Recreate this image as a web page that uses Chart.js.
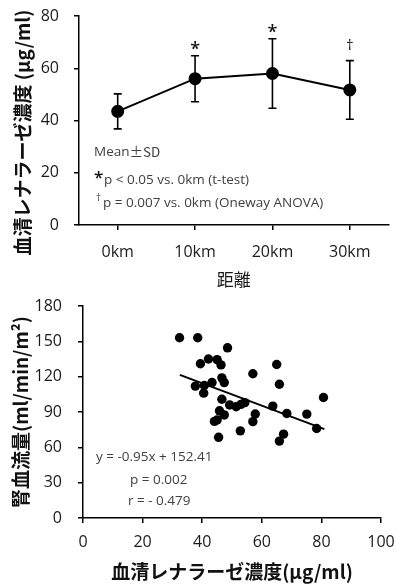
<!DOCTYPE html>
<html>
<head>
<meta charset="utf-8">
<script src="https://cdn.jsdelivr.net/npm/chart.js@4.4.1/dist/chart.umd.min.js"></script>
<style>
  html, body { margin: 0; padding: 0; background: #fff; }
  #wrap { position: relative; width: 396px; height: 586px; }
  canvas { position: absolute; left: 0; }
  #topChart { top: 0; }
  #bottomChart { top: 290px; }
</style>
</head>
<body>
<div id="wrap">
  <canvas id="topChart" width="396" height="290"></canvas>
  <canvas id="bottomChart" width="396" height="296"></canvas>
</div>
<script>
// top chart: serum renalase by distance (mean, SD)
const distances = ['0km', '10km', '20km', '30km'];
const meanRenalase = [43.5, 56, 58, 51.7];
const sdRenalase = [6.7, 8.8, 13.3, 11.2];
const sigMarks = ['', '*', '*', '†'];
const yTicksTop = [0, 20, 40, 60, 80];

// bottom chart: renalase vs renal blood flow
const renalase = [32.4, 38.5, 48.5, 39.4, 42.1, 45.0, 46.3, 65.0, 57.0, 46.6, 47.4, 43.3,
  37.7, 40.7, 40.5, 65.9, 46.6, 49.2, 51.4, 53.0, 54.3, 45.8, 47.4, 45.0, 44.1, 57.8,
  57.0, 52.8, 45.5, 63.7, 68.4, 75.1, 80.7, 78.4, 67.3, 65.9];
const rbf = [153, 153, 144.5, 131, 135, 134.5, 130, 130.3, 122.5, 119, 115, 115,
  112, 112.5, 106, 113.6, 100.8, 96, 94.5, 96.5, 98, 91, 87.5, 83.2, 82, 88.3,
  81.8, 74, 68.5, 95, 88.7, 88.2, 102.3, 76, 71.2, 65.3];
const fitX = [32.5, 81];
const fitY = [121.5, 75.5];
const xTicksBottom = [0, 20, 40, 60, 80, 100];
const yTicksBottom = [0, 30, 60, 90, 120, 150, 180];

const latin = '"Open Sans", "Noto Sans CJK JP", sans-serif';
const cjk = '"Noto Sans CJK JP", "Open Sans", sans-serif';

Chart.defaults.font.family = latin;
Chart.defaults.font.size = 16;
Chart.defaults.color = '#1a1a1a';

function axisStyle(extra) {
  return Object.assign({
    border: { display: true, color: '#000', width: 1.5 },
    grid: { display: true, drawOnChartArea: false, drawTicks: true, tickLength: 5, color: '#000', lineWidth: 1.5 },
  }, extra);
}

// fixed box size, no extra label overflow padding
function fixSize(w, h) {
  return function (scale) {
    if (w) scale.width = w;
    if (h) scale.height = h;
    scale.paddingTop = 0; scale.paddingBottom = 0;
    scale.paddingLeft = 0; scale.paddingRight = 0;
  };
}

const errorBars = {
  id: 'errorBars',
  beforeDatasetsDraw(chart) {
    const { ctx, scales: { x, y } } = chart;
    ctx.save();
    ctx.strokeStyle = '#000';
    ctx.lineWidth = 1.6;
    meanRenalase.forEach((m, i) => {
      const px = x.getPixelForValue(i);
      const hi = y.getPixelForValue(m + sdRenalase[i]);
      const lo = y.getPixelForValue(m - sdRenalase[i]);
      ctx.beginPath();
      ctx.moveTo(px, hi); ctx.lineTo(px, lo);
      ctx.moveTo(px - 4, hi); ctx.lineTo(px + 4, hi);
      ctx.moveTo(px - 4, lo); ctx.lineTo(px + 4, lo);
      ctx.stroke();
    });
    ctx.restore();
  },
  afterDatasetsDraw(chart) {
    const { ctx, scales: { x, y }, chartArea } = chart;
    ctx.save();
    ctx.fillStyle = '#111';
    ctx.textAlign = 'center';
    ctx.textBaseline = 'alphabetic';
    sigMarks.forEach((s, i) => {
      if (!s) return;
      const px = x.getPixelForValue(i);
      const hi = y.getPixelForValue(meanRenalase[i] + sdRenalase[i]);
      if (s === '*') {
        ctx.font = '600 18px ' + latin;
        ctx.fillText(s, px, hi - 1);
      } else {
        ctx.font = '15px ' + latin;
        ctx.fillText(s, px, hi - 11);
      }
    });
    // legend notes
    const lx = chartArea.left + 15;
    ctx.textAlign = 'left';
    ctx.textBaseline = 'middle';
    ctx.fillStyle = '#404040';
    ctx.font = '13.5px ' + latin;
    ctx.fillText('Mean', lx, 152);
    const w = ctx.measureText('Mean').width;
    ctx.font = '13.5px ' + cjk;
    ctx.fillText('±SD', lx + w, 152);
    ctx.fillStyle = '#111';
    ctx.font = '600 17px ' + latin;
    ctx.fillText('*', lx, 178);
    ctx.fillStyle = '#404040';
    ctx.font = '13.5px ' + latin;
    ctx.fillText('p < 0.05 vs. 0km (t-test)', lx + 10, 180);
    ctx.font = '10px ' + latin;
    ctx.fillText('†', lx + 2, 198);
    ctx.font = '13.5px ' + latin;
    ctx.fillText('p = 0.007 vs. 0km (Oneway ANOVA)', lx + 9, 203);

    // y axis title, sits a little below the axis middle in the original
    const cy = (chartArea.top + chartArea.bottom) / 2 + 12;
    ctx.translate(23, cy);
    ctx.rotate(-Math.PI / 2);
    ctx.textAlign = 'center';
    ctx.fillStyle = '#111';
    ctx.font = 'bold 19px ' + cjk;
    ctx.fillText('血清レナラーゼ濃度 (μg/ml)', 0, 0);
    ctx.restore();
  }
};

new Chart(document.getElementById('topChart'), {
  type: 'line',
  data: {
    labels: distances,
    datasets: [{
      data: meanRenalase,
      borderColor: '#000',
      backgroundColor: '#000',
      borderWidth: 2,
      pointRadius: 5.5,
      pointBackgroundColor: '#000',
      tension: 0
    }]
  },
  options: {
    responsive: false,
    animation: false,
    layout: { padding: { top: 16, right: 1, left: 0, bottom: 0 } },
    plugins: { legend: { display: false }, tooltip: { enabled: false } },
    scales: {
      x: axisStyle({
        offset: true,
        ticks: { color: '#1a1a1a', padding: 13, font: { family: latin, size: 16 } },
        title: { display: true, text: '距離', color: '#1a1a1a', padding: { top: 0, bottom: 0 }, font: { family: cjk, size: 17 } },
        afterFit: fixSize(0, 65)
      }),
      y: axisStyle({
        min: 0, max: 80,
        afterBuildTicks(scale) { scale.ticks = yTicksTop.map(v => ({ value: v })); },
        ticks: { color: '#1a1a1a', padding: 15, font: { family: latin, size: 16 } },
        title: { display: false },
        afterFit: fixSize(79, 0)
      })
    }
  },
  plugins: [errorBars]
});

const fitNotes = {
  id: 'fitNotes',
  afterDatasetsDraw(chart) {
    const { ctx } = chart;
    ctx.save();
    ctx.fillStyle = '#404040';
    ctx.font = '13.5px ' + latin;
    ctx.textAlign = 'left';
    ctx.textBaseline = 'middle';
    ctx.fillText('y = -0.95x + 152.41', 96, 167);
    ctx.fillText('p = 0.002', 130, 190);
    ctx.fillText('r = - 0.479', 128, 211);
    ctx.restore();
  }
};

new Chart(document.getElementById('bottomChart'), {
  type: 'scatter',
  data: {
    datasets: [{
      data: renalase.map((v, i) => ({ x: v, y: rbf[i] })),
      backgroundColor: '#000',
      borderColor: '#000',
      pointRadius: 4.7,
      pointBorderWidth: 0
    }, {
      type: 'line',
      data: fitX.map((v, i) => ({ x: v, y: fitY[i] })),
      borderColor: '#000',
      borderWidth: 2,
      pointRadius: 0,
      showLine: true
    }]
  },
  options: {
    responsive: false,
    animation: false,
    layout: { padding: { top: 16, right: 15, left: 0, bottom: 0 } },
    plugins: { legend: { display: false }, tooltip: { enabled: false } },
    scales: {
      x: axisStyle({
        type: 'linear', min: 0, max: 100,
        afterBuildTicks(scale) { scale.ticks = xTicksBottom.map(v => ({ value: v })); },
        ticks: { color: '#1a1a1a', padding: 10, font: { family: latin, size: 16 } },
        title: { display: true, text: '血清レナラーゼ濃度(μg/ml)', color: '#111', padding: { top: 0, bottom: 3 }, font: { family: cjk, size: 19, weight: 'bold' } },
        afterFit: fixSize(0, 68)
      }),
      y: axisStyle({
        min: 0, max: 180,
        afterBuildTicks(scale) { scale.ticks = yTicksBottom.map(v => ({ value: v })); },
        ticks: { color: '#1a1a1a', padding: 16, font: { family: latin, size: 16 } },
        title: { display: true, text: '腎血流量(ml/min/m²)', color: '#111', padding: { top: 9, bottom: 0 }, font: { family: cjk, size: 19, weight: 'bold' } },
        afterFit: fixSize(83, 0)
      })
    }
  },
  plugins: [fitNotes]
});
</script>
</body>
</html>
